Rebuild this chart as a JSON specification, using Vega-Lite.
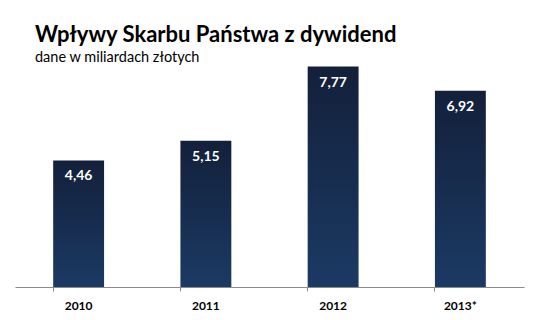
{
  "$schema": "https://vega.github.io/schema/vega-lite/v6.json",
  "autosize": "none",
  "width": 509,
  "height": 227,
  "padding": {"left": 15, "top": 60, "right": 15, "bottom": 33},
  "background": "white",
  "config": {
    "view": {"stroke": null},
    "locale": {"number": {"decimal": ",", "thousands": " ", "grouping": [3], "currency": ["", " zł"]}},
    "font": "Lato"
  },
  "title": {
    "text": "Wpływy Skarbu Państwa z dywidend",
    "subtitle": "dane w miliardach złotych",
    "anchor": "start",
    "frame": "group",
    "dx": 20,
    "offset": -5,
    "font": "Lato",
    "fontSize": 22,
    "fontWeight": "bold",
    "color": "#000000",
    "subtitleFont": "Lato",
    "subtitleFontSize": 14.5,
    "subtitleColor": "#000000",
    "subtitlePadding": 4
  },
  "data": {
    "values": [
      {"rok": "2010", "wartosc": 4.46},
      {"rok": "2011", "wartosc": 5.15},
      {"rok": "2012", "wartosc": 7.77},
      {"rok": "2013*", "wartosc": 6.92}
    ]
  },
  "encoding": {
    "x": {
      "field": "rok",
      "type": "nominal",
      "sort": null,
      "scale": {"paddingInner": 0.6, "paddingOuter": 0.3},
      "axis": {
        "title": null,
        "labelAngle": 0,
        "labelFont": "Lato",
        "labelFontSize": 12,
        "labelFontWeight": "bold",
        "labelColor": "#000000",
        "labelPadding": 9,
        "domainColor": "#8a8a8a",
        "tickColor": "#8a8a8a",
        "tickSize": 4,
        "bandPosition": 0
      }
    },
    "y": {
      "field": "wartosc",
      "type": "quantitative",
      "scale": {"domain": [0, 8], "nice": false},
      "axis": null
    }
  },
  "layer": [
    {
      "mark": {
        "type": "bar",
        "color": {
          "gradient": "linear",
          "x1": 0, "y1": 0, "x2": 0, "y2": 1,
          "stops": [
            {"offset": 0, "color": "#13203a"},
            {"offset": 1, "color": "#1b3a64"}
          ]
        }
      }
    },
    {
      "mark": {
        "type": "text",
        "color": "white",
        "font": "Lato",
        "fontSize": 14,
        "fontWeight": "bold",
        "baseline": "middle",
        "dy": 16
      },
      "encoding": {
        "text": {"field": "wartosc", "type": "quantitative", "format": ".2f"}
      }
    }
  ]
}
